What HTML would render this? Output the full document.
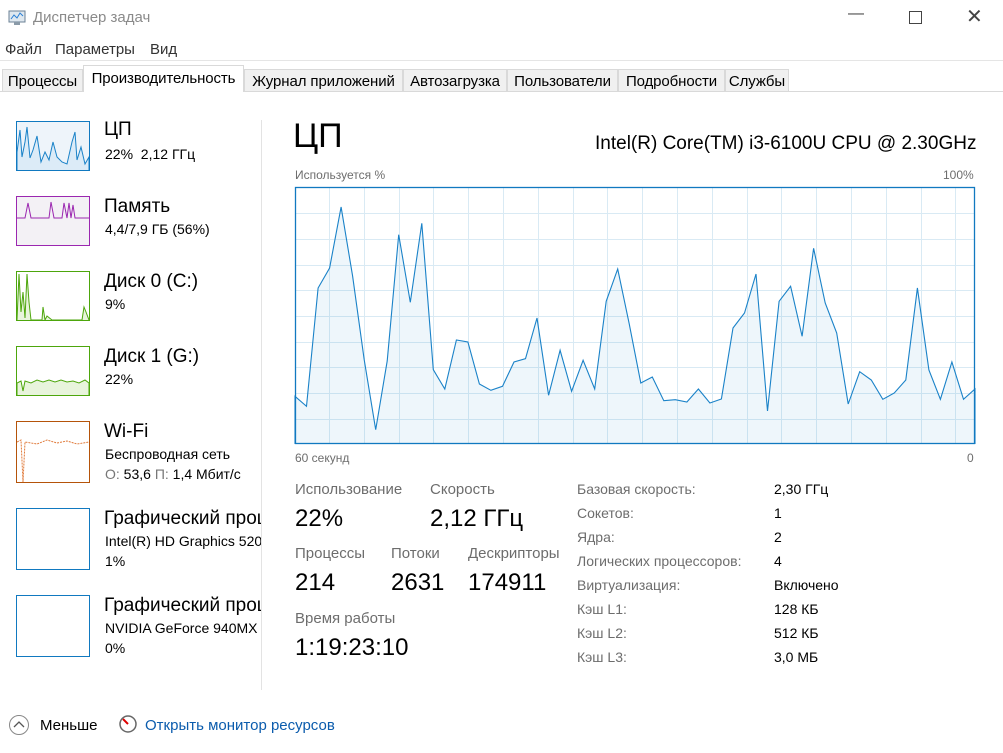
<!DOCTYPE html>
<html><head><meta charset="utf-8"><style>
body{margin:0;width:1003px;height:753px;background:#fff;font-family:"Liberation Sans","DejaVu Sans",sans-serif;position:relative;overflow:hidden;color:#000}
.a{position:absolute;white-space:nowrap}
.tab{position:absolute;top:69px;height:23px;border:1px solid #d9d9d9;background:#f0f0f0;font-size:15px;line-height:23px;text-align:center;box-sizing:border-box;letter-spacing:-0.1px}
.g{color:#6d6d6d;font-size:14px}
.big{font-size:23px}
.th{position:absolute;left:16px;width:74px;box-sizing:border-box;border:1px solid}
</style></head><body>
<svg class="a" style="left:8px;top:10px" width="18" height="16"><rect x="1" y="1" width="16" height="11" fill="#dfe8ef" stroke="#6b8194"/><polyline points="3,9 6,5 9,8 12,3 15,6" fill="none" stroke="#2a7fd4"/><rect x="6" y="12" width="6" height="3" fill="#8a9aa8"/></svg>
<div class="a" style="left:33px;top:9px;font-size:15px;color:#8a8a8a">Диспетчер задач</div>
<div class="a" style="left:848px;top:5px;font-size:16px;color:#444">&#8212;</div>
<div class="a" style="left:909px;top:11px;width:11px;height:11px;border:1px solid #444"></div>
<div class="a" style="left:966px;top:4px;font-size:20px;color:#444">✕</div>
<div class="a" style="left:5px;top:41px;font-size:15px;color:#333">Файл</div>
<div class="a" style="left:55px;top:41px;font-size:15px;color:#333">Параметры</div>
<div class="a" style="left:150px;top:41px;font-size:15px;color:#333">Вид</div>
<div class="a" style="left:0;top:60px;width:1003px;height:1px;background:#e5e5e5"></div>
<div class="a" style="left:0;top:91px;width:1003px;height:1px;background:#d9d9d9"></div>
<div class="tab" style="left:2px;width:81px">Процессы</div>
<div class="tab" style="left:83px;top:65px;height:27px;width:161px;background:#fff;border-bottom:none;line-height:25px">Производительность</div>
<div class="tab" style="left:244px;width:159px">Журнал приложений</div>
<div class="tab" style="left:403px;width:104px">Автозагрузка</div>
<div class="tab" style="left:507px;width:111px">Пользователи</div>
<div class="tab" style="left:618px;width:107px">Подробности</div>
<div class="tab" style="left:725px;width:64px">Службы</div>

<!-- sidebar -->
<div class="th" style="top:121px;height:50px;border-color:#1179c0;background:#eef4fa"></div>
<svg class="a" style="left:17px;top:122px" width="72" height="48"><polyline fill="#dcebf7" stroke="#1a82c8" points="0,48 0,30 3,8 5,35 8,20 10,5 13,36 16,28 20,14 24,40 28,30 32,38 36,20 40,35 45,40 50,42 55,20 58,10 60,38 64,25 68,42 72,35 72,48"/></svg>
<div class="th" style="top:196px;height:50px;border-color:#9b27b0;background:#f3f1f5"></div>
<svg class="a" style="left:17px;top:197px" width="72" height="48"><polyline fill="none" stroke="#9b27b0" points="0,21 8,21 11,6 14,21 32,21 34,5 37,21 45,21 47,6 50,21 52,6 54,21 56,8 58,21 72,21"/></svg>
<div class="th" style="top:271px;height:50px;border-color:#4da60c"></div>
<svg class="a" style="left:17px;top:272px" width="72" height="48"><polyline fill="#e8f4dc" stroke="#4da60c" points="0,48 2,2 4,40 6,20 8,46 10,2 12,30 14,48 25,48 26,35 28,48 30,44 35,48 65,48 67,35 69,40 72,48"/></svg>
<div class="th" style="top:346px;height:50px;border-color:#4da60c"></div>
<svg class="a" style="left:17px;top:347px" width="72" height="48"><polyline fill="#e8f4dc" stroke="#4da60c" points="0,48 0,36 4,34 6,44 8,34 14,36 20,33 26,35 32,33 38,35 44,33 50,35 56,34 62,36 68,33 72,36 72,48"/></svg>
<div class="th" style="top:421px;height:62px;border-color:#b5540a"></div>
<svg class="a" style="left:17px;top:422px" width="72" height="60"><polyline fill="none" stroke="#e07a3a" stroke-dasharray="2,1" points="0,20 4,18 6,60 8,20 20,22 30,18 40,21 50,19 60,22 72,20"/></svg>
<div class="th" style="top:508px;height:62px;border-color:#1179c0"></div>
<div class="th" style="top:595px;height:62px;border-color:#1179c0"></div>

<div class="a big" style="left:104px;top:119px;font-size:19px">ЦП</div>
<div class="a" style="left:105px;top:146px;font-size:14px">22%&nbsp; 2,12 ГГц</div>
<div class="a" style="left:104px;top:196px;font-size:19px">Память</div>
<div class="a" style="left:105px;top:221px;font-size:14px">4,4/7,9 ГБ (56%)</div>
<div class="a" style="left:104px;top:271px;font-size:19px">Диск 0 (C:)</div>
<div class="a" style="left:105px;top:296px;font-size:14px">9%</div>
<div class="a" style="left:104px;top:346px;font-size:19px">Диск 1 (G:)</div>
<div class="a" style="left:105px;top:371px;font-size:14px">22%</div>
<div class="a" style="left:104px;top:421px;font-size:19px">Wi-Fi</div>
<div class="a" style="left:105px;top:446px;font-size:14px">Беспроводная сеть</div>
<div class="a" style="left:105px;top:466px;font-size:14px"><span style="color:#777">О:</span> 53,6 <span style="color:#777">П:</span> 1,4 Мбит/с</div>
<div class="a" style="left:0;top:500px;width:261px;height:170px;overflow:hidden">
<div class="a" style="left:104px;top:8px;font-size:19px">Графический процессор</div>
<div class="a" style="left:105px;top:33px;font-size:14px">Intel(R) HD Graphics 520</div>
<div class="a" style="left:105px;top:53px;font-size:14px">1%</div>
<div class="a" style="left:104px;top:95px;font-size:19px">Графический процессор</div>
<div class="a" style="left:105px;top:120px;font-size:14px">NVIDIA GeForce 940MX</div>
<div class="a" style="left:105px;top:140px;font-size:14px">0%</div>
</div>
<div class="a" style="left:261px;top:120px;width:1px;height:570px;background:#e3e3e3"></div>

<!-- main -->
<div class="a" style="left:293px;top:117px;font-size:34px">ЦП</div>
<div class="a" style="left:595px;top:133px;font-size:19px">Intel(R) Core(TM) i3-6100U CPU @ 2.30GHz</div>
<div class="a" style="left:295px;top:168px;font-size:12px;color:#6d6d6d">Используется %</div>
<div class="a" style="left:943px;top:168px;font-size:12px;color:#6d6d6d">100%</div>
<div class="a" style="left:295px;top:451px;font-size:12px;color:#6d6d6d">60 секунд</div>
<div class="a" style="left:967px;top:451px;font-size:12px;color:#6d6d6d">0</div>
<svg class="a" style="left:0;top:0" width="1003" height="753">
<g stroke="#d9eaf4" stroke-width="1">
<line x1="329.5" y1="187" x2="329.5" y2="444"/><line x1="364.5" y1="187" x2="364.5" y2="444"/><line x1="399.5" y1="187" x2="399.5" y2="444"/><line x1="433.5" y1="187" x2="433.5" y2="444"/><line x1="468.5" y1="187" x2="468.5" y2="444"/><line x1="503.5" y1="187" x2="503.5" y2="444"/><line x1="538.5" y1="187" x2="538.5" y2="444"/><line x1="573.5" y1="187" x2="573.5" y2="444"/><line x1="607.5" y1="187" x2="607.5" y2="444"/><line x1="642.5" y1="187" x2="642.5" y2="444"/><line x1="677.5" y1="187" x2="677.5" y2="444"/><line x1="712.5" y1="187" x2="712.5" y2="444"/><line x1="747.5" y1="187" x2="747.5" y2="444"/><line x1="781.5" y1="187" x2="781.5" y2="444"/><line x1="816.5" y1="187" x2="816.5" y2="444"/><line x1="851.5" y1="187" x2="851.5" y2="444"/><line x1="886.5" y1="187" x2="886.5" y2="444"/><line x1="921.5" y1="187" x2="921.5" y2="444"/><line x1="955.5" y1="187" x2="955.5" y2="444"/>
<line x1="295" y1="213.5" x2="975" y2="213.5"/><line x1="295" y1="239.5" x2="975" y2="239.5"/><line x1="295" y1="265.5" x2="975" y2="265.5"/><line x1="295" y1="290.5" x2="975" y2="290.5"/><line x1="295" y1="316.5" x2="975" y2="316.5"/><line x1="295" y1="342.5" x2="975" y2="342.5"/><line x1="295" y1="367.5" x2="975" y2="367.5"/><line x1="295" y1="393.5" x2="975" y2="393.5"/><line x1="295" y1="419.5" x2="975" y2="419.5"/>
</g>
<polyline fill="rgba(17,121,192,0.07)" stroke="#1a82c8" stroke-width="1.1" points="295,444 295,396.3 306.5,406.3 318.1,288 329.6,268 341.1,207 352.6,276 364.2,359.7 375.7,429.7 387.2,361 398.7,234.7 410.3,302.3 421.8,223.3 433.3,369.7 444.8,389 456.4,340 467.9,342 479.4,384 490.9,390.3 502.5,386.3 514,362 525.5,358.7 537,318 548.6,395.3 560.1,350.3 571.6,391.3 583.1,360.3 594.7,389 606.2,301.3 617.7,269 629.2,323.7 640.8,383 652.3,377 663.8,400.7 675.3,399.7 686.9,402 698.4,389 709.9,403 721.4,399 733,328 744.5,313 756,274 767.5,411 779.1,301.3 790.6,286.3 802.1,336.3 813.6,248.3 825.2,303 836.7,333 848.2,404 859.7,371.7 871.3,380 882.8,399.3 894.3,393 905.8,380 917.4,288 928.9,370 940.4,399.3 951.9,362 963.5,399.3 975,389 975,444"/>
<rect x="295.5" y="187.5" width="679" height="256" fill="none" stroke="#1179c0" stroke-width="1.3"/>
</svg>

<div class="a g" style="left:295px;top:481px;font-size:15px">Использование</div>
<div class="a" style="left:295px;top:505px;font-size:24px">22%</div>
<div class="a g" style="left:430px;top:481px;font-size:15px">Скорость</div>
<div class="a" style="left:430px;top:505px;font-size:24px">2,12 ГГц</div>
<div class="a g" style="left:295px;top:545px;font-size:15px">Процессы</div>
<div class="a" style="left:295px;top:569px;font-size:24px">214</div>
<div class="a g" style="left:391px;top:545px;font-size:15px">Потоки</div>
<div class="a" style="left:391px;top:569px;font-size:24px">2631</div>
<div class="a g" style="left:468px;top:545px;font-size:15px">Дескрипторы</div>
<div class="a" style="left:468px;top:569px;font-size:24px">174911</div>
<div class="a g" style="left:295px;top:610px;font-size:15px">Время работы</div>
<div class="a" style="left:295px;top:634px;font-size:24px">1:19:23:10</div>

<div class="a g" style="left:577px;top:481px">Базовая скорость:</div><div class="a" style="left:774px;top:481px;font-size:14px">2,30 ГГц</div>
<div class="a g" style="left:577px;top:505px">Сокетов:</div><div class="a" style="left:774px;top:505px;font-size:14px">1</div>
<div class="a g" style="left:577px;top:529px">Ядра:</div><div class="a" style="left:774px;top:529px;font-size:14px">2</div>
<div class="a g" style="left:577px;top:553px">Логических процессоров:</div><div class="a" style="left:774px;top:553px;font-size:14px">4</div>
<div class="a g" style="left:577px;top:577px">Виртуализация:</div><div class="a" style="left:774px;top:577px;font-size:14px">Включено</div>
<div class="a g" style="left:577px;top:601px">Кэш L1:</div><div class="a" style="left:774px;top:601px;font-size:14px">128 КБ</div>
<div class="a g" style="left:577px;top:625px">Кэш L2:</div><div class="a" style="left:774px;top:625px;font-size:14px">512 КБ</div>
<div class="a g" style="left:577px;top:649px">Кэш L3:</div><div class="a" style="left:774px;top:649px;font-size:14px">3,0 МБ</div>

<svg class="a" style="left:8px;top:714px" width="22" height="22"><circle cx="11" cy="11" r="9.5" fill="none" stroke="#888"/><polyline points="6,13 11,8 16,13" fill="none" stroke="#555" stroke-width="1.3"/></svg>
<div class="a" style="left:40px;top:717px;font-size:15px">Меньше</div>
<svg class="a" style="left:118px;top:714px" width="20" height="20"><circle cx="10" cy="10" r="8" fill="#fff" stroke="#666" stroke-width="1.5"/><line x1="10" y1="10" x2="5" y2="5" stroke="#d00" stroke-width="2"/></svg>
<div class="a" style="left:145px;top:717px;font-size:15px;color:#0b5cad">Открыть монитор ресурсов</div>
</body></html>
